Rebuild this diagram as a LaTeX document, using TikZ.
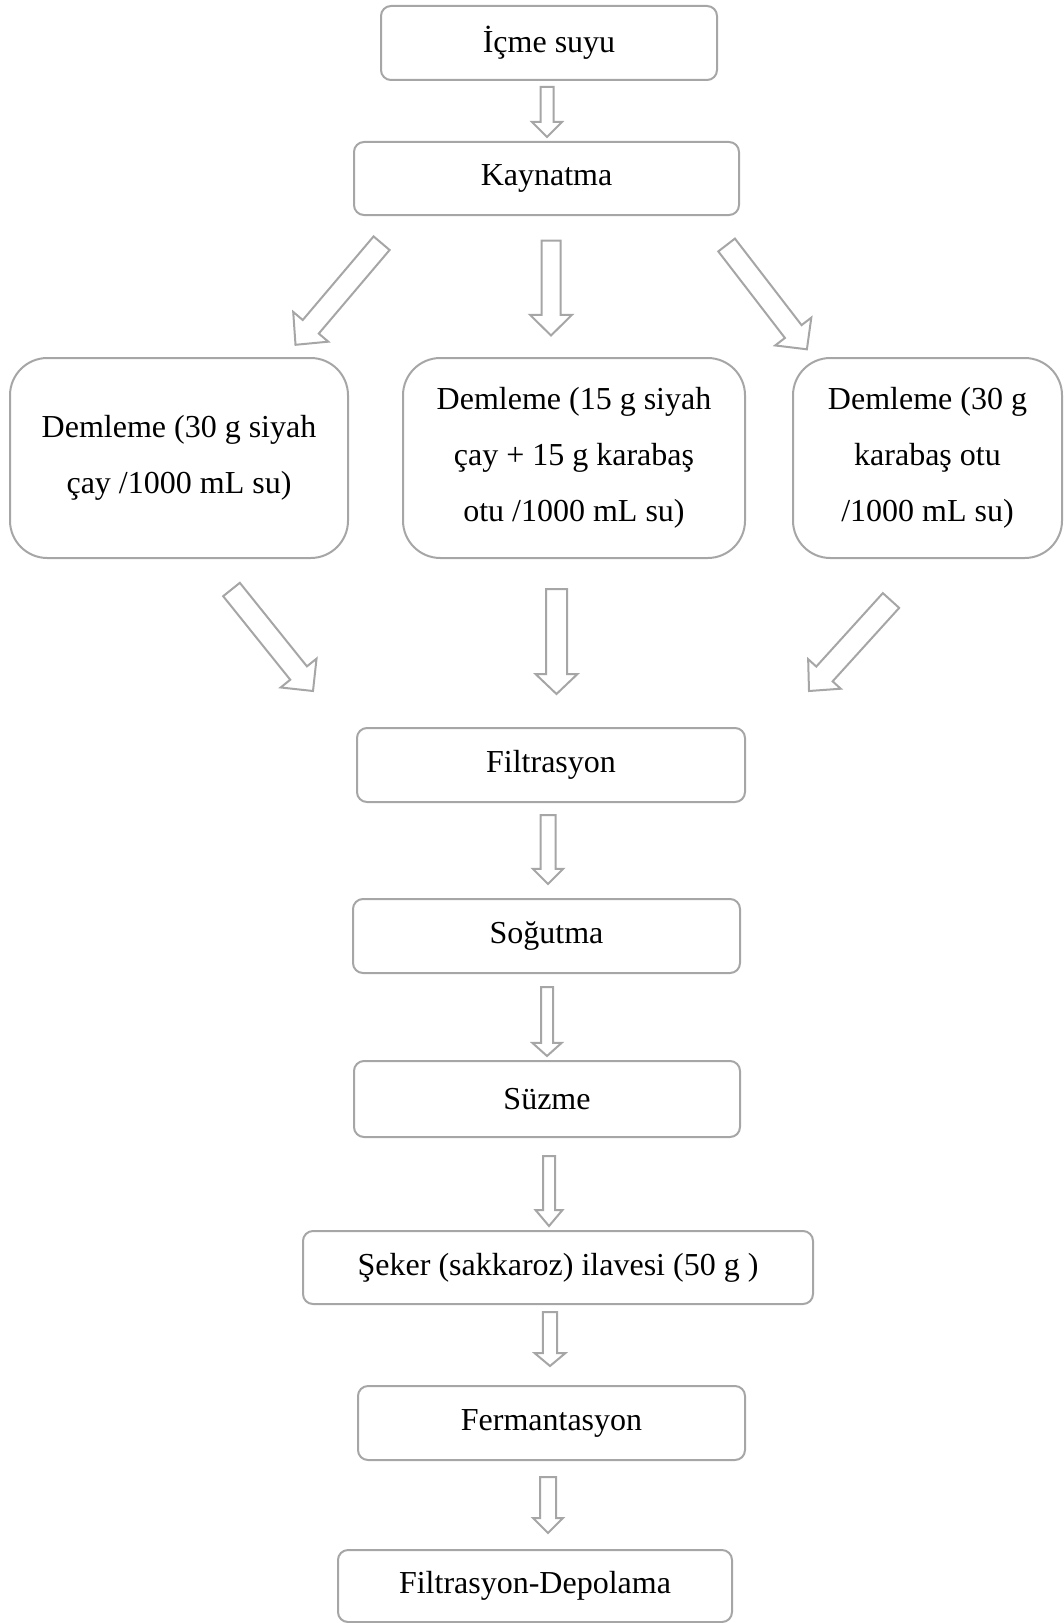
\documentclass[tikz,border=0pt]{standalone}
\usepackage{fontspec}
\setmainfont{Liberation Serif}
\usetikzlibrary{calc}
\definecolor{edgegray}{RGB}{166,166,166}
\tikzset{
  stepbox/.style={draw=edgegray, line width=0.75pt, rounded corners=3.75pt, inner sep=0pt, align=center, font=\fontsize{12}{21}\selectfont, minimum height=74*0.375pt},
  brewbox/.style={stepbox, rounded corners=14pt, minimum height=200*0.375pt},
  blockarrow/.style={draw=edgegray, line width=0.75pt, fill=white, line join=miter}
}
% #1 name, #2 half shaft width, #3 half head width, #4 head length
\newcommand\blockarr[4]{%
  \coordinate (#1-b) at ($(#1-tip)!#4!(#1-tail)$);
  \draw[blockarrow] ($(#1-tail)!#2!90:(#1-tip)$) -- ($(#1-b)!#2!-90:(#1-tail)$) -- ($(#1-b)!#3!-90:(#1-tail)$) -- (#1-tip) -- ($(#1-b)!#3!90:(#1-tail)$) -- ($(#1-b)!#2!90:(#1-tail)$) -- ($(#1-tail)!#2!-90:(#1-tip)$) -- cycle;
}
\begin{document}
\begin{tikzpicture}[x=0.375pt, y=-0.375pt]
\useasboundingbox (0,0) rectangle (1063,1623);

% boxes
\node[stepbox, minimum width=336*0.375pt] (icme) at (549,43) {İçme suyu};
\node[stepbox, minimum width=385*0.375pt, minimum height=73*0.375pt] (kayn) at (546.5,178.5) {Kaynatma};
\node[brewbox, minimum width=338*0.375pt] (dem1) at (179,458) {Demleme (30 g siyah\\çay /1000 mL su)};
\node[brewbox, minimum width=342*0.375pt] (dem2) at (574,458) {Demleme (15 g siyah\\çay + 15 g karabaş\\otu /1000 mL su)};
\node[brewbox, minimum width=269*0.375pt] (dem3) at (927.5,458) {Demleme (30 g\\karabaş otu\\/1000 mL su)};
\node[stepbox, minimum width=388*0.375pt] (filt) at (551,765) {Filtrasyon};
\node[stepbox, minimum width=387*0.375pt] (sogu) at (546.5,936) {Soğutma};
\node[stepbox, minimum width=386*0.375pt, minimum height=76*0.375pt] (suzm) at (547,1099) {Süzme};
\node[stepbox, minimum width=510*0.375pt, minimum height=73*0.375pt] (seke) at (558,1267.5) {Şeker (sakkaroz) ilavesi (50 g )};
\node[stepbox, minimum width=387*0.375pt] (ferm) at (551.5,1423) {Fermantasyon};
\node[stepbox, minimum width=394*0.375pt, minimum height=72*0.375pt] (depo) at (535,1586) {Filtrasyon-Depolama};

% arrow end points
\coordinate (a1-tail) at (547,87);     \coordinate (a1-tip) at (547,137);
\coordinate (a2-tail) at (381.6,243.2);\coordinate (a2-tip) at (295.5,344.8);
\coordinate (a3-tail) at (551,240.5);  \coordinate (a3-tip) at (551,335.5);
\coordinate (a4-tail) at (726.6,245);  \coordinate (a4-tip) at (806.9,349.3);
\coordinate (a5-tail) at (231.5,589.5);\coordinate (a5-tip) at (313,691);
\coordinate (a6-tail) at (556.5,589);  \coordinate (a6-tip) at (556.5,694);
\coordinate (a7-tail) at (891,600.5);  \coordinate (a7-tip) at (809,691);
\coordinate (a8-tail) at (548,815);    \coordinate (a8-tip) at (548,884);
\coordinate (a9-tail) at (547,987);    \coordinate (a9-tip) at (547,1056);
\coordinate (a10-tail) at (549,1156);  \coordinate (a10-tip) at (549,1226);
\coordinate (a11-tail) at (550,1312);  \coordinate (a11-tip) at (550,1366);
\coordinate (a12-tail) at (548,1477);  \coordinate (a12-tip) at (548,1533);

\blockarr{a1}{2.44pt}{5.63pt}{5.63pt}
\blockarr{a2}{3.94pt}{8.63pt}{8.85pt}
\blockarr{a3}{3.56pt}{7.88pt}{7.76pt}
\blockarr{a4}{3.94pt}{8.55pt}{8.4pt}
\blockarr{a5}{4.01pt}{8.63pt}{8.63pt}
\blockarr{a6}{3.94pt}{7.88pt}{7.5pt}
\blockarr{a7}{4.13pt}{8.25pt}{8.63pt}
\blockarr{a8}{2.81pt}{5.63pt}{5.63pt}
\blockarr{a9}{2.25pt}{5.44pt}{4.88pt}
\blockarr{a10}{2.25pt}{5.06pt}{6pt}
\blockarr{a11}{2.63pt}{5.81pt}{4.88pt}
\blockarr{a12}{3pt}{5.63pt}{5.63pt}
\end{tikzpicture}
\end{document}
